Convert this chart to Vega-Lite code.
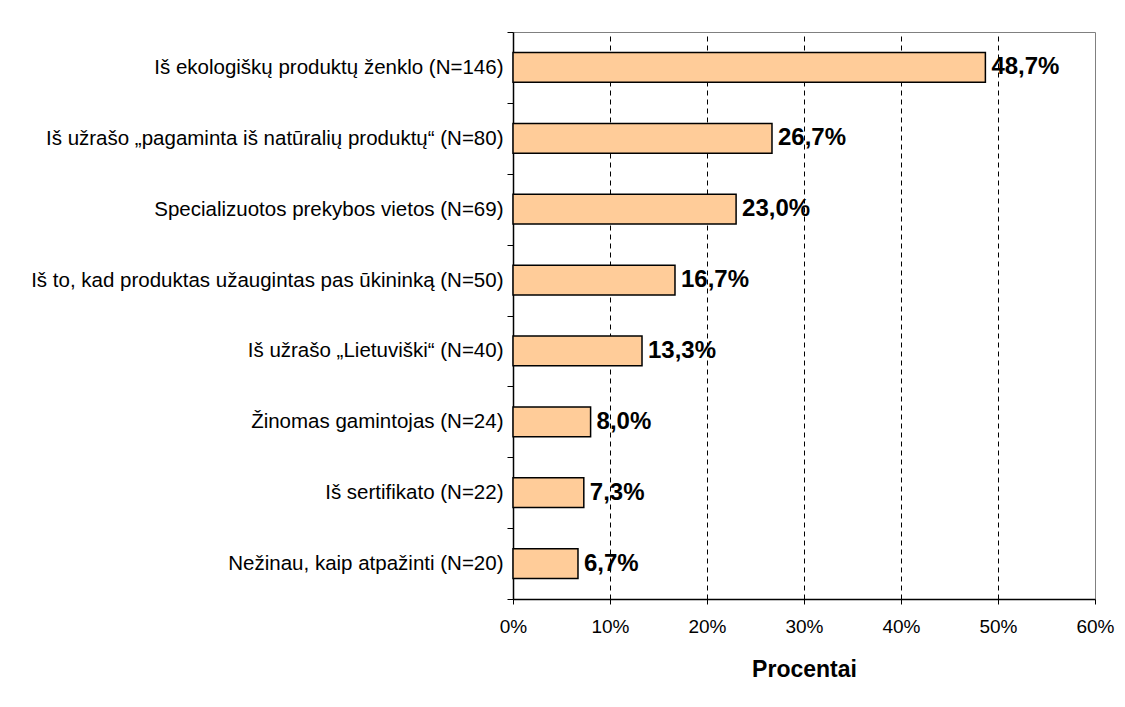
{
  "$schema": "https://vega.github.io/schema/vega-lite/v6.json",
  "width": 582,
  "height": 567,
  "autosize": {"type": "none"},
  "padding": {"left": 513, "top": 32, "right": 30, "bottom": 108},
  "background": "white",
  "config": {
    "locale": {
      "number": {"decimal": ",", "thousands": " ", "grouping": [3], "currency": ["", " €"]}
    },
    "font": "Liberation Sans",
    "view": {"stroke": "#808080", "strokeWidth": 1}
  },
  "data": {
    "values": [
      {"category": "Iš ekologiškų produktų ženklo (N=146)", "share": 0.487},
      {"category": "Iš užrašo „pagaminta iš natūralių produktų“ (N=80)", "share": 0.267},
      {"category": "Specializuotos prekybos vietos (N=69)", "share": 0.230},
      {"category": "Iš to, kad produktas užaugintas pas ūkininką (N=50)", "share": 0.167},
      {"category": "Iš užrašo „Lietuviški“ (N=40)", "share": 0.133},
      {"category": "Žinomas gamintojas (N=24)", "share": 0.080},
      {"category": "Iš sertifikato (N=22)", "share": 0.073},
      {"category": "Nežinau, kaip atpažinti (N=20)", "share": 0.067}
    ]
  },
  "encoding": {
    "y": {
      "field": "category",
      "type": "nominal",
      "sort": null,
      "scale": {"paddingInner": 0, "paddingOuter": 0},
      "axis": {
        "title": null,
        "tickBand": "extent",
        "domainColor": "black",
        "domainWidth": 1.5,
        "tickColor": "black",
        "tickWidth": 1,
        "tickSize": 6,
        "labelFontSize": 20.5,
        "labelColor": "black",
        "labelPadding": 4,
        "labelLimit": 800
      }
    },
    "x": {
      "field": "share",
      "type": "quantitative",
      "scale": {"domain": [0, 0.6]},
      "axis": {
        "values": [0, 0.1, 0.2, 0.3, 0.4, 0.5, 0.6],
        "format": ".0%",
        "title": "Procentai",
        "titleFontSize": 23,
        "titleFontWeight": "bold",
        "titleColor": "black",
        "titlePadding": 22,
        "domainColor": "black",
        "domainWidth": 1.5,
        "tickColor": "black",
        "tickSize": 5,
        "labelFontSize": 19,
        "labelColor": "black",
        "labelPadding": 13,
        "labelFlush": false,
        "grid": true,
        "gridColor": "black",
        "gridWidth": 1,
        "gridDash": [5, 4],
        "gridOpacity": {
          "condition": {"test": "datum.value <= 0 || datum.value >= 0.6", "value": 0},
          "value": 1
        }
      }
    }
  },
  "layer": [
    {
      "mark": {
        "type": "bar",
        "height": {"band": 0.42},
        "fill": "#FFCC99",
        "stroke": "black",
        "strokeWidth": 1.5
      }
    },
    {
      "mark": {
        "type": "text",
        "align": "left",
        "baseline": "middle",
        "dx": 6,
        "fontSize": 24,
        "fontWeight": "bold",
        "color": "black"
      },
      "encoding": {"text": {"field": "share", "format": ".1%"}}
    }
  ]
}
